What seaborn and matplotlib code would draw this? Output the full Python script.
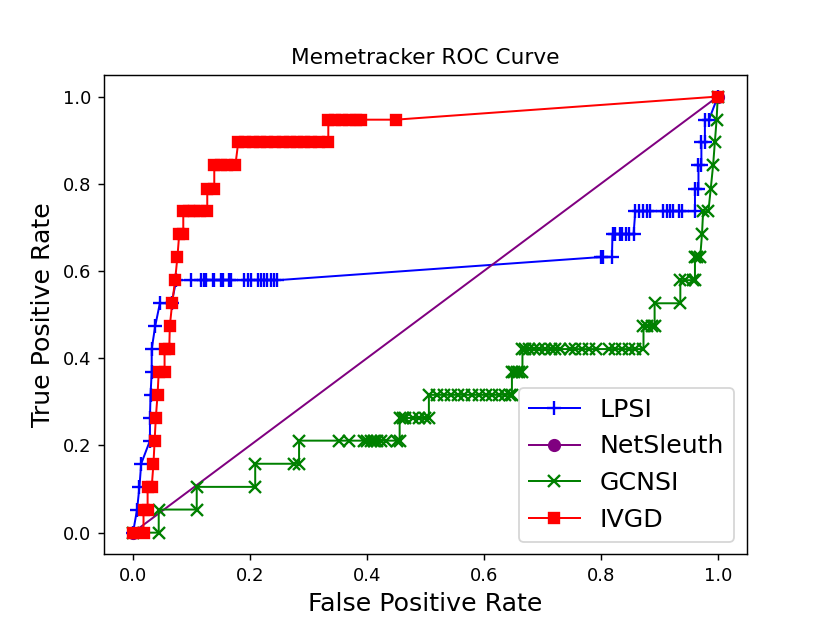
import matplotlib
matplotlib.use("Agg")
import matplotlib.pyplot as plt
import seaborn as sns

# ROC points (fpr, tpr per method)
lpsi_fpr = [0.0, 0.007, 0.011, 0.014, 0.029, 0.029, 0.030, 0.032, 0.032, 0.038, 0.046, 0.066,
            0.074, 0.100, 0.116, 0.121, 0.125, 0.136, 0.139, 0.151, 0.154, 0.165, 0.168,
            0.190, 0.196, 0.202, 0.213, 0.219, 0.224, 0.230, 0.236, 0.241, 0.247,
            0.800, 0.803, 0.819,
            0.820, 0.825, 0.832, 0.837, 0.843, 0.849, 0.856,
            0.859, 0.865, 0.873, 0.879, 0.884, 0.907, 0.913, 0.918, 0.924, 0.933, 0.939, 0.961,
            0.961, 0.967, 0.967, 0.972, 0.972, 0.978, 0.978, 0.985, 1.0]
lpsi_tpr = [0.0, 0.053, 0.105, 0.158, 0.211, 0.263, 0.316, 0.368, 0.421, 0.474, 0.526, 0.526,
            0.579, 0.579, 0.579, 0.579, 0.579, 0.579, 0.579, 0.579, 0.579, 0.579, 0.579,
            0.579, 0.579, 0.579, 0.579, 0.579, 0.579, 0.579, 0.579, 0.579, 0.579,
            0.632, 0.632, 0.632,
            0.684, 0.684, 0.684, 0.684, 0.684, 0.684, 0.684,
            0.737, 0.737, 0.737, 0.737, 0.737, 0.737, 0.737, 0.737, 0.737, 0.737, 0.737, 0.737,
            0.789, 0.789, 0.842, 0.842, 0.895, 0.895, 0.947, 0.947, 1.0]

netsleuth_fpr = [0.0, 1.0]
netsleuth_tpr = [0.0, 1.0]

gcnsi_fpr = [0.0, 0.044, 0.044, 0.109, 0.109, 0.209, 0.209, 0.276, 0.284,
             0.284, 0.352, 0.370, 0.395, 0.401, 0.407, 0.412, 0.418, 0.424, 0.432, 0.452, 0.456,
             0.456, 0.461, 0.466, 0.478, 0.489, 0.500, 0.506,
             0.506, 0.520, 0.532, 0.543, 0.555, 0.566, 0.580, 0.592, 0.603, 0.614, 0.626, 0.637, 0.645, 0.648,
             0.648, 0.652, 0.656, 0.660, 0.666,
             0.666, 0.671, 0.677, 0.685, 0.694, 0.705, 0.714, 0.722, 0.731, 0.748, 0.756, 0.768,
             0.779, 0.791, 0.814, 0.825, 0.836, 0.848, 0.859, 0.873,
             0.873, 0.879, 0.887, 0.892,
             0.892, 0.936,
             0.936, 0.944, 0.958, 0.961,
             0.961, 0.964, 0.970,
             0.973, 0.975, 0.984, 0.988, 0.992, 0.995, 0.998, 1.0]
gcnsi_tpr = [0.0, 0.0, 0.053, 0.053, 0.105, 0.105, 0.158, 0.158, 0.158,
             0.211, 0.211, 0.211, 0.211, 0.211, 0.211, 0.211, 0.211, 0.211, 0.211, 0.211, 0.211,
             0.263, 0.263, 0.263, 0.263, 0.263, 0.263, 0.263,
             0.316, 0.316, 0.316, 0.316, 0.316, 0.316, 0.316, 0.316, 0.316, 0.316, 0.316, 0.316, 0.316, 0.316,
             0.368, 0.368, 0.368, 0.368, 0.368,
             0.421, 0.421, 0.421, 0.421, 0.421, 0.421, 0.421, 0.421, 0.421, 0.421, 0.421, 0.421,
             0.421, 0.421, 0.421, 0.421, 0.421, 0.421, 0.421, 0.421,
             0.474, 0.474, 0.474, 0.474,
             0.526, 0.526,
             0.579, 0.579, 0.579, 0.579,
             0.632, 0.632, 0.632,
             0.684, 0.737, 0.737, 0.789, 0.842, 0.895, 0.947, 1.0]

ivgd_fpr = [0.0, 0.018, 0.018, 0.025, 0.025, 0.032, 0.035, 0.037, 0.039, 0.042, 0.044, 0.054,
            0.054, 0.062, 0.063, 0.067, 0.072, 0.076, 0.079, 0.086,
            0.086, 0.095, 0.105, 0.115, 0.127,
            0.127, 0.139,
            0.139, 0.150, 0.161, 0.175,
            0.180, 0.192, 0.205, 0.218, 0.230, 0.243, 0.256, 0.268, 0.280, 0.292, 0.305, 0.318, 0.334,
            0.334, 0.346, 0.358, 0.370, 0.381, 0.390, 0.449, 1.0]
ivgd_tpr = [0.0, 0.0, 0.053, 0.053, 0.105, 0.105, 0.158, 0.211, 0.263, 0.316, 0.368, 0.368,
            0.421, 0.421, 0.474, 0.526, 0.579, 0.632, 0.684, 0.684,
            0.737, 0.737, 0.737, 0.737, 0.737,
            0.789, 0.789,
            0.842, 0.842, 0.842, 0.842,
            0.895, 0.895, 0.895, 0.895, 0.895, 0.895, 0.895, 0.895, 0.895, 0.895, 0.895, 0.895, 0.895,
            0.947, 0.947, 0.947, 0.947, 0.947, 0.947, 0.947, 1.0]

series = [
    ("LPSI", lpsi_fpr, lpsi_tpr, "+", "blue", 7.5),
    ("NetSleuth", netsleuth_fpr, netsleuth_tpr, "o", "purple", 6),
    ("GCNSI", gcnsi_fpr, gcnsi_tpr, "x", "green", 7),
    ("IVGD", ivgd_fpr, ivgd_tpr, "s", "red", 6),
]

fig, ax = plt.subplots(figsize=(830 / 130, 623 / 130), dpi=130)

for name, fpr, tpr, mk, col, ms in series:
    sns.lineplot(x=fpr, y=tpr, ax=ax, sort=False, estimator=None,
                 marker=mk, color=col, label=name, linewidth=1.1,
                 markersize=ms, markeredgecolor=col, markeredgewidth=1.3)

ax.set_title("Memetracker ROC Curve", fontsize=12)
ax.set_xlabel("False Positive Rate", fontsize=14)
ax.set_ylabel("True Positive Rate", fontsize=14)
ax.legend(loc="lower right", fontsize=14)

fig.savefig("out.png", dpi=130)
